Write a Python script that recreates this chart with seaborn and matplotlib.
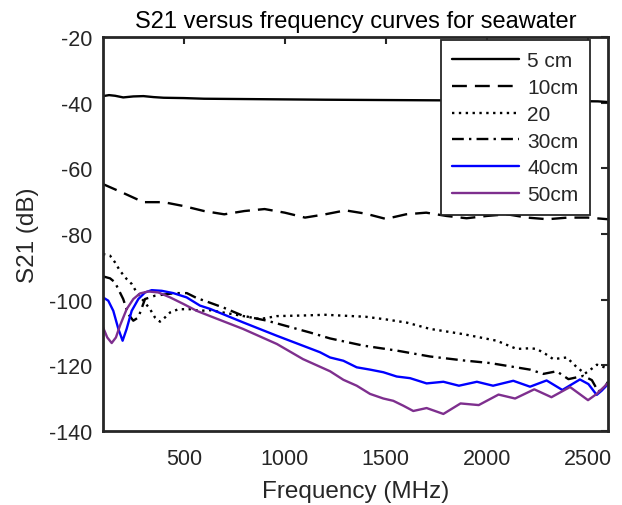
import matplotlib
matplotlib.use("Agg")
import matplotlib.pyplot as plt
import seaborn as sns
import pandas as pd

# ---- data ----
f_5 = [100, 130, 160, 200, 250, 300, 350, 400, 500, 600, 800, 1000, 1200, 1500, 1800, 2000, 2200, 2400, 2550, 2600]
s_5 = [-38.0, -37.7, -37.9, -38.4, -38.1, -38.0, -38.3, -38.5, -38.6, -38.8, -38.9, -39.0, -39.1, -39.2, -39.3, -39.3, -39.4, -39.5, -39.6, -39.8]

f_10 = [100, 200, 300, 400, 500, 600, 700, 800, 900, 1000, 1100, 1200, 1300, 1400, 1500, 1600, 1700, 1800, 1900, 2000, 2100, 2200, 2300, 2400, 2500, 2600]
s_10 = [-64.8, -67.5, -70.3, -70.3, -71.5, -73.0, -74.0, -73.0, -72.4, -73.5, -75.0, -74.0, -72.8, -73.8, -75.4, -74.0, -73.5, -74.5, -75.2, -74.5, -74.0, -75.0, -75.5, -75.0, -75.0, -75.5]

f_20 = [100, 135, 159, 184, 217, 242, 267, 300, 333, 357, 382, 407, 432, 473, 531, 580, 630, 750, 877, 961, 1100, 1200, 1300, 1400, 1500, 1605, 1719, 1884, 2049, 2148, 2214, 2247, 2290, 2329, 2396, 2446, 2486, 2520, 2545, 2569, 2600]
s_20 = [-86.1, -86.6, -88.6, -91.2, -93.7, -95.2, -97.8, -100.3, -102.9, -105.4, -106.7, -105.4, -103.9, -102.9, -102.9, -103.4, -103.2, -104.5, -105.9, -105.0, -104.8, -104.6, -104.9, -105.2, -106.0, -107.0, -108.9, -110.5, -112.5, -115.0, -114.8, -115.0, -116.5, -118.1, -117.6, -120.6, -122.5, -121.0, -119.8, -120.3, -121.0]

f_30 = [100, 135, 159, 200, 225, 250, 275, 308, 357, 456, 515, 564, 615, 700, 793, 912, 1125, 1224, 1389, 1554, 1719, 1884, 2016, 2115, 2214, 2280, 2346, 2404, 2478, 2520, 2552, 2585, 2600]
s_30 = [-92.9, -93.5, -94.7, -99.8, -104.4, -106.4, -105.4, -99.8, -98.8, -98.0, -98.0, -99.5, -100.6, -102.5, -104.9, -106.4, -110.0, -111.8, -114.0, -115.5, -117.3, -118.5, -119.3, -120.3, -121.3, -122.6, -121.8, -124.2, -123.2, -124.5, -128.0, -126.5, -125.0]

f_40 = [100, 126, 151, 176, 197, 217, 242, 275, 308, 341, 391, 448, 514, 580, 630, 793, 961, 1174, 1224, 1290, 1356, 1422, 1488, 1554, 1620, 1702, 1785, 1862, 1951, 2031, 2131, 2214, 2296, 2374, 2461, 2503, 2544, 2569, 2600]
s_40 = [-99.3, -100.3, -103.4, -108.9, -112.5, -108.9, -103.4, -99.8, -97.8, -97.1, -97.3, -98.0, -99.3, -101.8, -102.8, -106.9, -111.0, -116.0, -117.6, -118.6, -120.6, -121.3, -122.1, -123.4, -123.9, -125.5, -125.0, -126.2, -125.0, -126.2, -124.7, -126.5, -124.6, -127.5, -124.3, -125.7, -129.0, -127.7, -125.7]

f_50 = [100, 121, 143, 164, 184, 217, 250, 283, 324, 374, 432, 498, 564, 630, 793, 961, 1090, 1224, 1290, 1356, 1422, 1488, 1537, 1587, 1636, 1702, 1785, 1870, 1960, 2058, 2140, 2235, 2320, 2412, 2501, 2544, 2600]
s_50 = [-108.4, -111.5, -113.2, -111.5, -107.9, -102.9, -99.8, -98.1, -97.5, -97.8, -99.3, -101.3, -103.4, -105.0, -108.9, -113.5, -118.1, -121.8, -124.4, -126.2, -128.7, -130.1, -130.8, -132.3, -133.9, -133.0, -134.8, -131.6, -132.1, -128.9, -130.1, -127.3, -129.7, -126.6, -130.6, -128.7, -125.4]

labels = ["5 cm", "10cm", "20", "30cm", "40cm", "50cm"]
xticks = [500, 1000, 1500, 2000, 2500]
yticks = [-20, -40, -60, -80, -100, -120, -140]

series = [(f_5, s_5), (f_10, s_10), (f_20, s_20), (f_30, s_30), (f_40, s_40), (f_50, s_50)]
colors = ["black", "black", "black", "black", "#0000FF", "#7E2F8E"]
styles = ["-", (0, (6.3, 3.4)), (0, (1, 1.9)), (0, (5, 2.2, 1, 2.2)), "-", "-"]

sns.set_theme(style="white")
plt.rcParams["font.family"] = ["Liberation Sans", "DejaVu Sans"]

fig = plt.figure(figsize=(6.22, 5.06), dpi=100)
ax = fig.add_axes([0.1656, 0.1462, 0.8119, 0.7787])

for (fx, sy), lab, c, ls in zip(series, labels, colors, styles):
    df = pd.DataFrame({"Frequency": fx, "S21": sy})
    sns.lineplot(data=df, x="Frequency", y="S21", ax=ax, color=c, linestyle=ls,
                 linewidth=1.7, label=lab, sort=False)

ax.set_xlim(100, 2600)
ax.set_ylim(-140, -20)
ax.set_xticks(xticks)
ax.set_yticks(yticks)
ax.set_xticklabels([str(t) for t in xticks])
ax.set_yticklabels([str(t) for t in yticks])
ax.tick_params(direction="in", length=5, width=1.5, top=True, right=True,
               labelsize=15.5, colors="#262626")
ax.tick_params(axis="x", pad=12)
ax.tick_params(axis="y", pad=8)
for sp in ax.spines.values():
    sp.set_visible(True)
    sp.set_color("#262626")
    sp.set_linewidth(2.0)

ax.set_xlabel("Frequency (MHz)", fontsize=17.5, color="#262626", labelpad=8)
ax.set_ylabel("S21 (dB)", fontsize=17.5, color="#262626", labelpad=7)
ax.set_title("S21 versus frequency curves for seawater", fontsize=17, color="black", pad=7)

leg = ax.legend(loc="upper right", bbox_to_anchor=(0.9644, 0.9924), fontsize=15,
                frameon=True, fancybox=False, edgecolor="#262626",
                handlelength=3.2, handletextpad=0.4, borderaxespad=0.0,
                labelspacing=0.37, borderpad=0.55)
leg.get_frame().set_linewidth(1.3)
leg.get_frame().set_alpha(1)

fig.savefig("out.png", dpi=100)
